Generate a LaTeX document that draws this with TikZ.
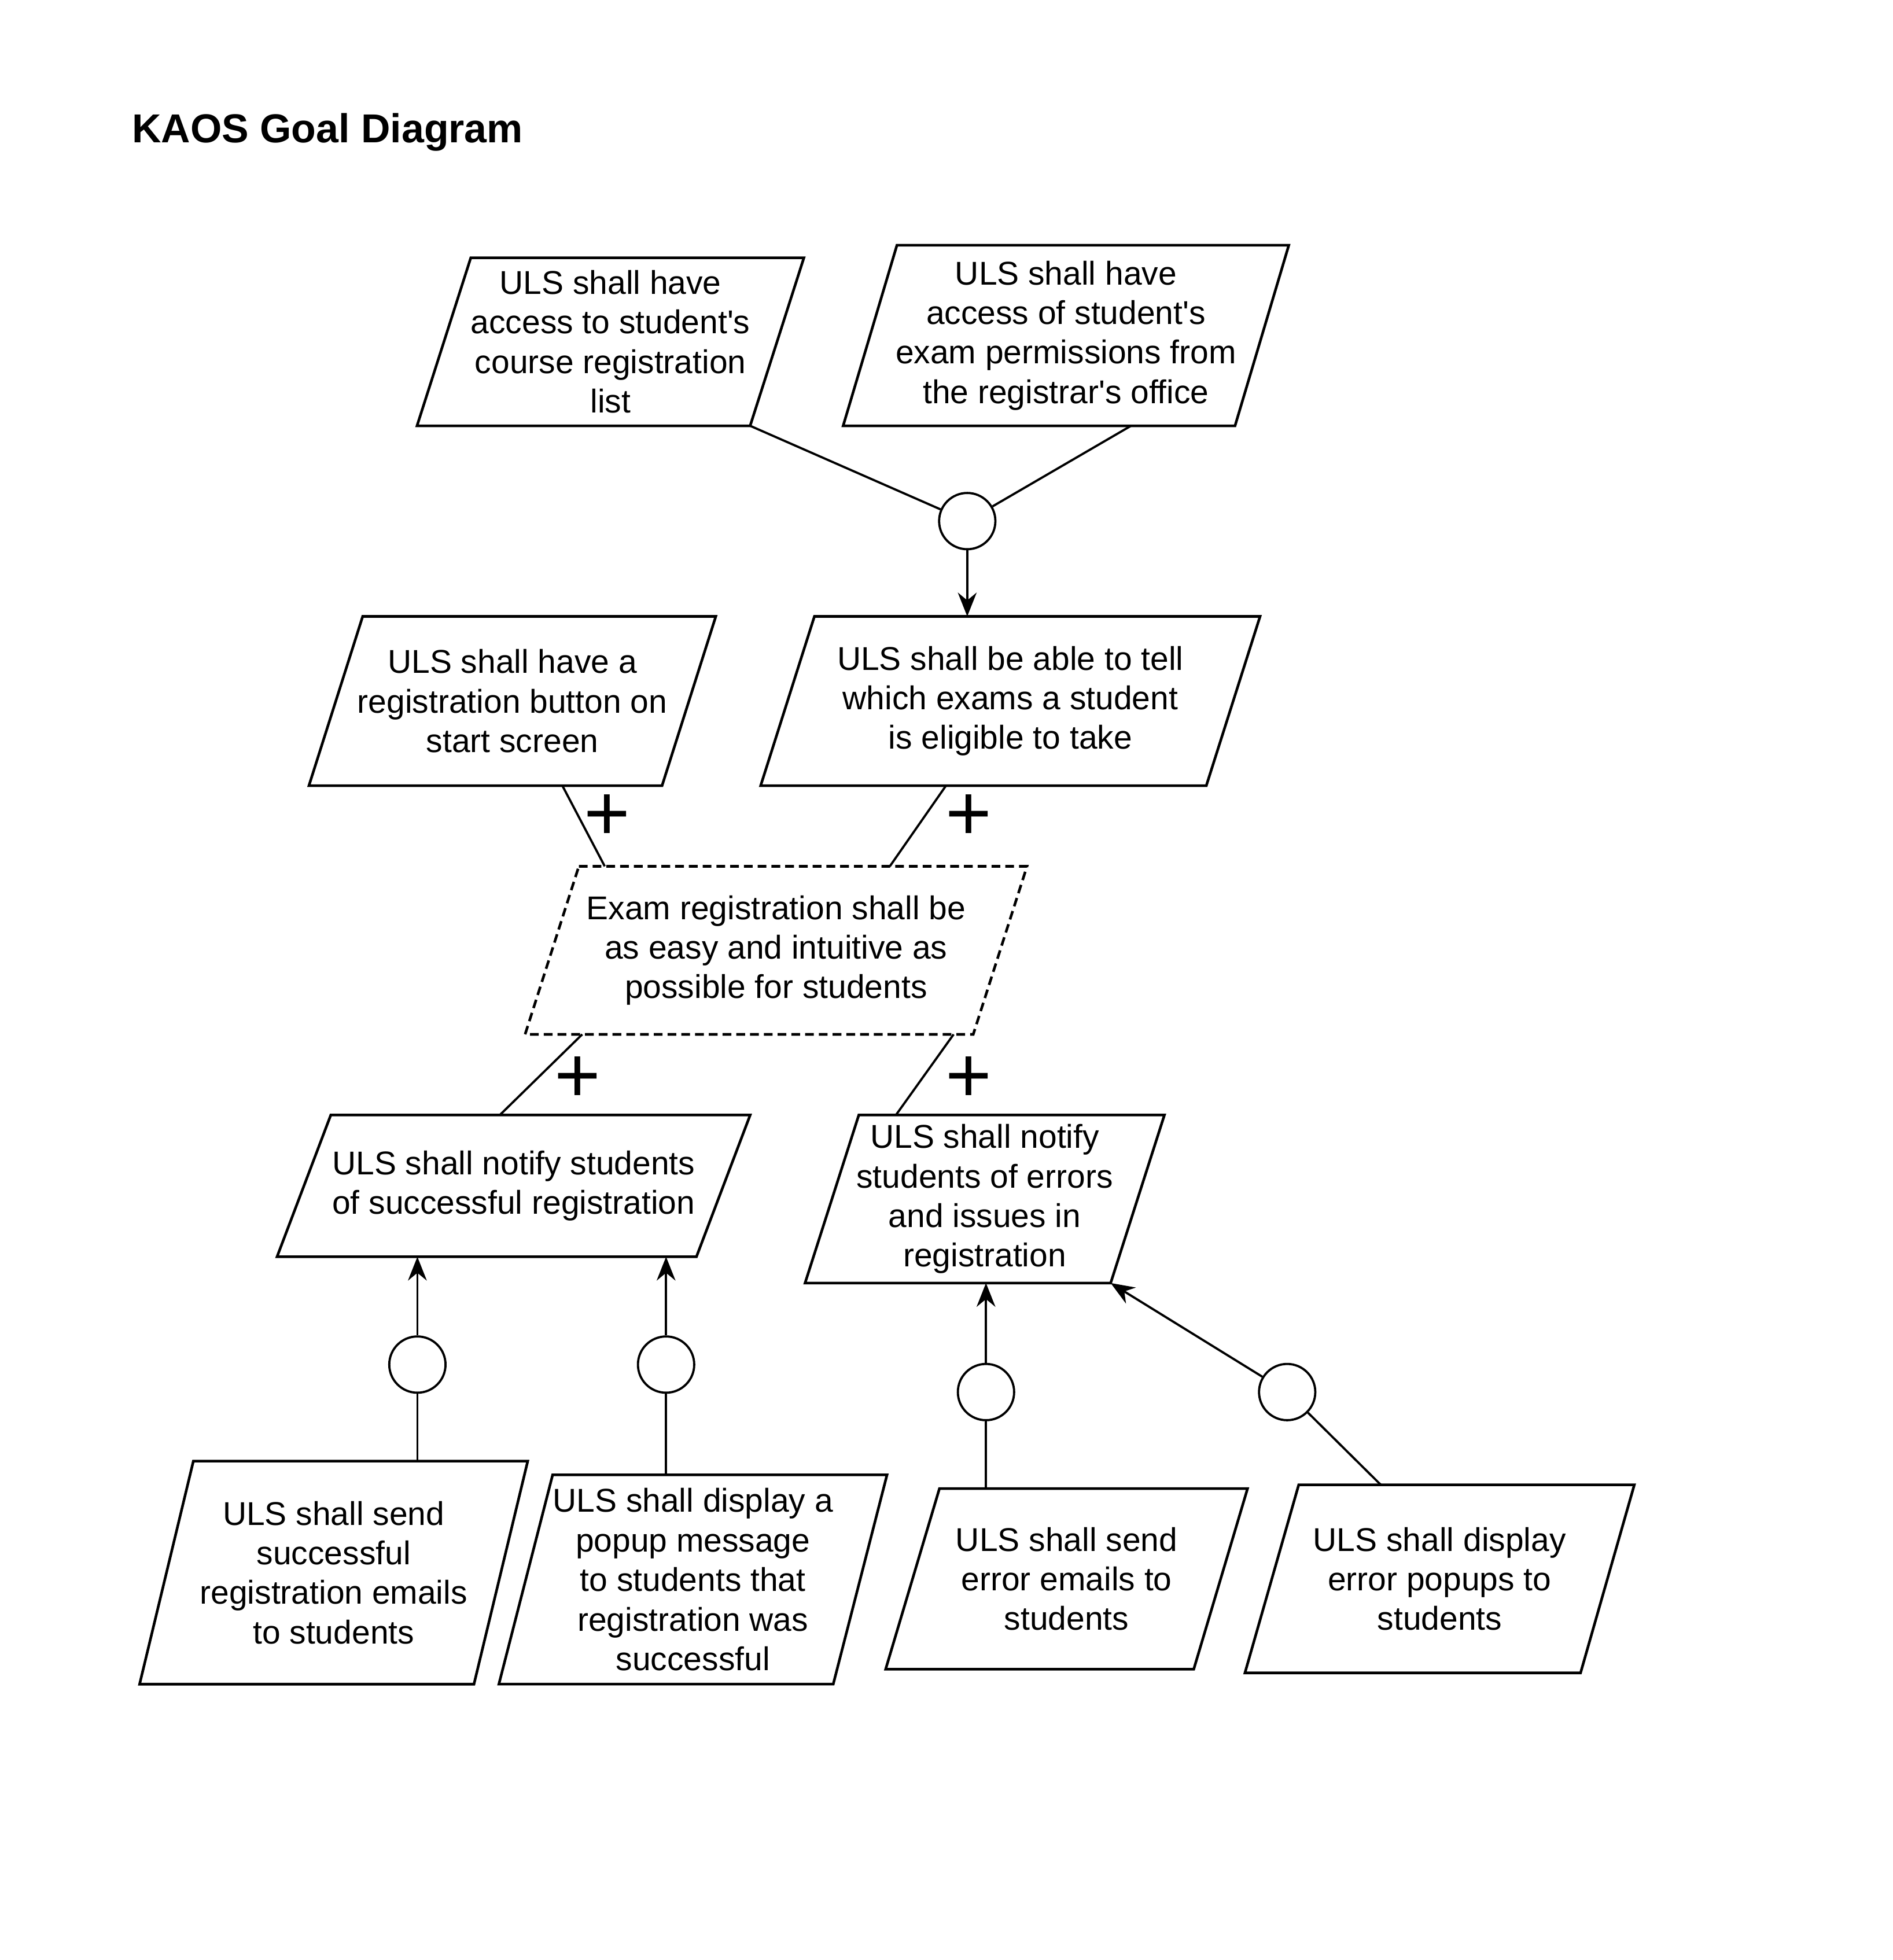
\documentclass[tikz,border=0pt]{standalone}
\usepackage{fontspec}
\setmainfont{Liberation Sans}
\usetikzlibrary{arrows.meta,calc}

\tikzset{
  goaltext/.style={inner sep=0pt, align=center, font=\fontsize{7.5}{9}\selectfont},
  goalline/.style={line width=0.6pt},
  link/.style={line width=0.5pt},
  refine/.style={link, -{Stealth[length=0.19cm,width=0.15cm]}},
  refnode/.style={circle, draw, line width=0.5pt, minimum size=0.45cm, inner sep=0pt},
  andplus/.style={font=\fontsize{18}{18}\selectfont, inner sep=0pt}
}
% goal parallelogram: name, centre, top width, height, line style, text
\newcommand{\goal}[6]{%
  \node[goaltext, minimum width=#3, minimum height=#4] (#1) at (#2) {#6};
  \draw[#5] ([xshift=2.15mm]#1.north west) -- ([xshift=2.15mm]#1.north east)
    -- ([xshift=-2.15mm]#1.south east) -- ([xshift=-2.15mm]#1.south west) -- cycle;
}

\begin{document}
\begin{tikzpicture}[x=0.01cm, y=-0.01cm]
  \useasboundingbox (0,0) rectangle (1514.4,1568.5);

  % Title
  \node[anchor=base west, inner sep=0pt, font=\bfseries\fontsize{9.2}{11}\selectfont] (title) at (105,114) {KAOS Goal Diagram};

  % Goals
  \goal{A}{488.5,273.5}{2.65cm}{1.33cm}{goalline}{ULS shall have\\access to student\textquotesingle s\\course registration\\list}
  \goal{B}{853,268.5}{3.12cm}{1.43cm}{goalline}{ULS shall have\\access of student\textquotesingle s\\exam permissions from\\the registrar\textquotesingle s office}
  \goal{C}{808.5,561}{3.55cm}{1.34cm}{goalline}{ULS shall be able to tell\\which exams a student\\is eligible to take}
  \goal{D}{410,561}{2.81cm}{1.34cm}{goalline}{ULS shall have a\\registration button on\\start screen}
  \goal{E}{621,760.5}{3.57cm}{1.33cm}{goalline, dash pattern=on 0.07cm off 0.04cm}{Exam registration shall be\\as easy and intuitive as\\possible for students}
  \goal{F}{411,949}{3.34cm}{1.12cm}{goalline}{ULS shall notify students\\of successful registration}
  \goal{G}{788,959.5}{2.43cm}{1.33cm}{goalline}{ULS shall notify\\students of errors\\and issues in\\registration}
  \goal{H}{267,1258.5}{2.66cm}{1.77cm}{goalline}{ULS shall send\\successful\\registration emails\\to students}
  \goal{I}{554.5,1264}{2.66cm}{1.66cm}{goalline}{ULS shall display a\\popup message\\to students that\\registration was\\successful}
  \goal{J}{853.5,1263.5}{2.45cm}{1.43cm}{goalline}{ULS shall send\\error emails to\\students}
  \goal{K}{1152,1263.5}{2.67cm}{1.49cm}{goalline}{ULS shall display\\error popups to\\students}

  % Top refinement
  \node[refnode] (c1) at (774,417) {};
  \draw[link] ([xshift=-2.15mm]A.south east) -- (c1);
  \draw[link] ([xshift=5.2mm]B.south) -- (c1);
  \draw[refine] (c1) -- (c1 |- C.north);

  % Contributions to the soft goal
  \draw[link] ([xshift=4mm]D.south) -- ([xshift=-13.7mm]E.north);
  \node[andplus] (p1) at (486,654) {+};
  \draw[link] ([xshift=-5.15mm]C.south) -- ([xshift=9.1mm]E.north);
  \node[andplus] (p2) at (775,654) {+};
  \draw[link] ([xshift=-15.5mm]E.south) -- ([xshift=-1.1mm]F.north);
  \node[andplus] (p3) at (462,864) {+};
  \draw[link] ([xshift=14.2mm]E.south) -- ([xshift=-7.1mm]G.north);
  \node[andplus] (p4) at (775,864) {+};

  % Bottom refinements
  \node[refnode] (c2) at (334,1092) {};
  \node[refnode] (c3) at (533,1092) {};
  \node[refnode] (c4) at (789,1114) {};
  \node[refnode] (c5) at (1030,1114) {};
  \draw[refine] (c2) -- (c2 |- F.south);
  \draw[refine] (c3) -- (c3 |- F.south);
  \draw[refine] (c4) -- (c4 |- G.south);
  \draw[refine] (c5) -- ([xshift=-2.15mm]G.south east);
  \draw[link] (c2) -- (c2 |- H.north);
  \draw[link] (c3) -- (c3 |- I.north);
  \draw[link] (c4) -- (c4 |- J.north);
  \draw[link] (c5) -- ([xshift=-4.7mm]K.north);
\end{tikzpicture}
\end{document}
